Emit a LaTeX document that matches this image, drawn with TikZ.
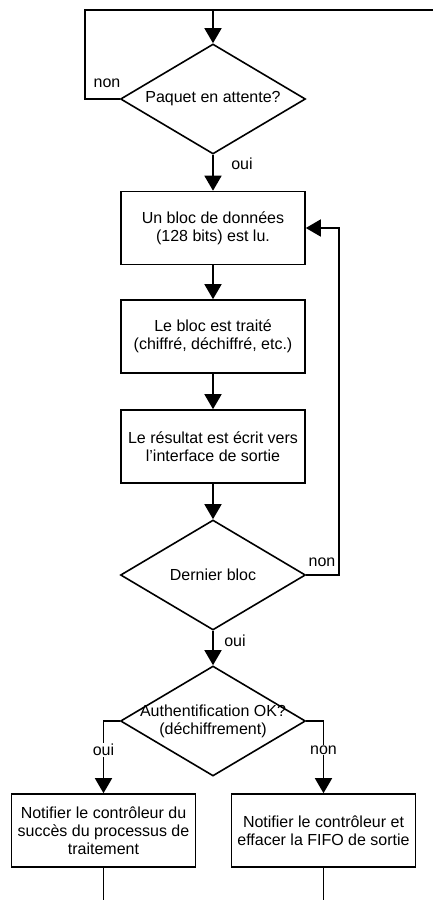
\documentclass[tikz,border=0pt]{standalone}
\usepackage{fontspec}
\setmainfont{Liberation Sans}
\usetikzlibrary{shapes.geometric,arrows.meta}
\begin{document}
\begin{tikzpicture}[x=1pt,y=-1pt,
  every node/.style={font=\fontsize{16}{18}\selectfont},
  line/.style={line width=1.6pt},
  arr/.style={line width=1.6pt,-{Triangle[length=15pt,width=17pt]}},
  box/.style={draw,line width=1.6pt,rectangle,minimum width=184pt,minimum height=73pt,align=center,inner sep=0pt},
  dia/.style={draw,line width=1.6pt,diamond,minimum width=185pt,minimum height=110pt,inner sep=0pt},
  txt/.style={align=center,inner sep=0pt},
  lbl/.style={inner sep=1pt}]
\useasboundingbox (0,0) rectangle (433,900);
\fill[white] (0,0) rectangle (433,900);

\coordinate (tl) at (85,10);
\coordinate (tm) at (213,10);
\coordinate (tr) at (433,10);

\node[dia] (d1) at (213,99) {};
\node[txt] at (d1) {Paquet en attente?};

\node[box] (b1) at (213,228) {Un bloc de données\\(128 bits) est lu.};
\node[box] (b2) at (213,336.5) {Le bloc est traité\\(chiffré, déchiffré, etc.)};
\node[box] (b3) at (213,446.5) {Le résultat est écrit vers\\l’interface de sortie};

\node[dia] (d2) at (213,575) {};
\node[txt] at (d2) {Dernier bloc};

\node[dia] (d3) at (213,721) {};
\node[txt] at (d3) {Authentification OK?\\(déchiffrement)};

\node[box] (b4) at (103.5,830.5) {Notifier le contrôleur du\\succès du processus de\\traitement};
\node[box] (b5) at (323.5,830.5) {Notifier le contrôleur et\\effacer la FIFO de sortie};

\coordinate (e4) at (103.5,900);
\coordinate (e5) at (323.5,900);
\coordinate (r2) at (339,575);

% top loop
\draw[line] (d1.west) -| (tl) -- (tr);
\draw[arr] (tm) -- (d1.north);
\node[lbl] at (107,83) {non};

\draw[arr] (d1.south) -- (b1.north);
\node[lbl] at (242,164) {oui};

\draw[arr] (b1) -- (b2);
\draw[arr] (b2) -- (b3);
\draw[arr] (b3) -- (d2.north);

\draw[arr] (d2.east) -- (r2) |- (b1.east);
\node[lbl] at (322,562) {non};

\draw[arr] (d2.south) -- (d3.north);
\node[lbl] at (235,641) {oui};

\draw[arr] (d3.west) -| (b4.north);
\draw[arr] (d3.east) -| (b5.north);
\node[lbl,fill=white] at (103.5,750) {oui};
\node[lbl,fill=white] at (323.5,750) {non};

\draw[line] (b4.south) -- (e4);
\draw[line] (b5.south) -- (e5);
\end{tikzpicture}
\end{document}
